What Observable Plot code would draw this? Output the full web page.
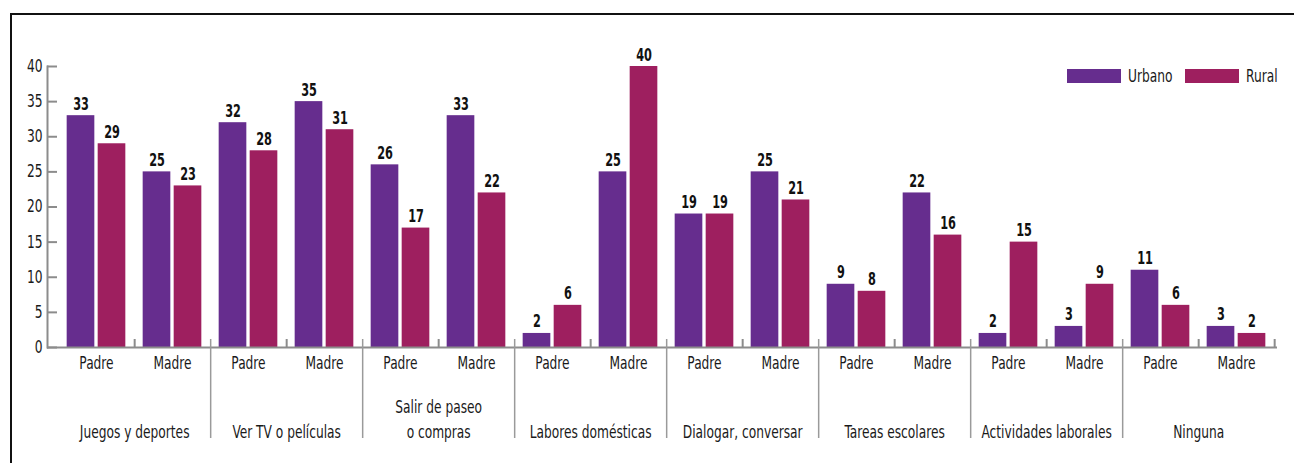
<!DOCTYPE html>
<html><head><meta charset="utf-8">
<script src="https://cdn.jsdelivr.net/npm/d3@7"></script>
<script src="https://cdn.jsdelivr.net/npm/@observablehq/plot@0.6"></script>
<style>
body{margin:0;background:#fff;}
#wrap{position:relative;width:1294px;height:463px;overflow:hidden;font-family:"DejaVu Sans Condensed","DejaVu Sans",sans-serif;}
#border{position:absolute;left:10px;top:13px;width:1400px;height:600px;border-left:2px solid #111;border-top:2px solid #111;}
#chart{position:absolute;left:0;top:0;}
.sw{position:absolute;top:69px;width:54px;height:14px;}
.lb{position:absolute;top:65px;font-size:17px;line-height:22px;color:#1a1a1a;transform:scaleX(0.8);transform-origin:0 50%;white-space:nowrap;}
</style></head><body>
<div id="wrap"><div id="border"></div><div id="chart"></div><div id="legend"></div></div>
<script>
const groups = ["Juegos y deportes", "Ver TV o películas", "Salir de paseo\no compras", "Labores domésticas", "Dialogar, conversar", "Tareas escolares", "Actividades laborales", "Ninguna"];
const parents = ["Padre", "Madre"];
const series = ["Urbano", "Rural"];
const urbano = [33, 25, 32, 35, 26, 33, 2, 25, 19, 25, 9, 22, 2, 3, 11, 3];
const rural  = [29, 23, 28, 31, 17, 22, 6, 40, 19, 21, 8, 16, 15, 9, 6, 2];
const yTicks = [0, 5, 10, 15, 20, 25, 30, 35, 40];
const colors = ["#662d8e", "#9e1f5f"];

const rows = urbano.map((u, i) => ({
  key: "k" + i,
  group: groups[Math.floor(i / 2)],
  parent: parents[i % 2],
  urbano: u,
  rural: rural[i],
  last: i === urbano.length - 1
}));
const keys = rows.map(d => d.key);
const font = '"DejaVu Sans Condensed","DejaVu Sans",sans-serif';
const axisColor = "#8c8c8c";
const half = (1276.67 - 55.33) / keys.length / 2;

const chart = Plot.plot({
  width: 1294, height: 463,
  marginLeft: 47, marginRight: 17, marginTop: 66, marginBottom: 116,
  x: {domain: keys, range: [55.33, 1276.67], padding: 0, axis: null},
  y: {domain: [0, 40], axis: null},
  style: {fontFamily: font, background: "transparent", color: "#1a1a1a"},
  marks: [
    Plot.barY(rows, {x: "key", y: "urbano", fill: colors[0], insetLeft: 8.67, insetRight: 39.67}),
    Plot.barY(rows, {x: "key", y: "rural", fill: colors[1], insetLeft: 39.67, insetRight: 8.67}),
    Plot.frame({anchor: "left", stroke: axisColor, strokeWidth: 2}),
    Plot.ruleY([0], {stroke: axisColor, strokeWidth: 2}),
    Plot.tickY(yTicks, {y: d => d, insetRight: 1220, stroke: axisColor, strokeWidth: 2}),
    Plot.axisY({ticks: yTicks, tickSize: 0, tickPadding: 5, fontSize: 17, fill: "#1a1a1a"}),
    Plot.text(rows, {x: "key", y: "urbano", text: d => String(d.urbano), dx: -15.5, dy: -6, lineAnchor: "bottom", fontWeight: "bold", fontSize: 17, fill: "#111"}),
    Plot.text(rows, {x: "key", y: "rural", text: d => String(d.rural), dx: 15.5, dy: -6, lineAnchor: "bottom", fontWeight: "bold", fontSize: 17, fill: "#111"}),
    Plot.text(rows, {x: "key", frameAnchor: "bottom", text: "parent", dy: 16, lineAnchor: "middle", fontSize: 17, fill: "#1a1a1a"}),
    Plot.text(rows.filter(d => d.parent === "Padre"), {x: "key", frameAnchor: "bottom", text: "group", dx: half, dy: 90, lineAnchor: "bottom", lineHeight: 1.47, fontSize: 17, fill: "#1a1a1a"}),
    Plot.ruleX(rows.filter(d => d.parent === "Madre" && !d.last), {x: "key", dx: half, insetTop: 273, insetBottom: -91, stroke: "#9a9a9a", strokeWidth: 1.5}),
    Plot.ruleX(rows.filter(d => d.parent === "Padre" || d.last), {x: "key", dx: half, insetTop: 273, insetBottom: 0, stroke: axisColor, strokeWidth: 2})
  ]
});

// condense the text horizontally, like the narrow typeface of the original
d3.select(chart).selectAll("text").each(function() {
  const g = this.closest("g");
  const bold = g && g.getAttribute("font-weight") === "bold";
  const t = this.getAttribute("transform") || "";
  this.setAttribute("transform", `${t} scale(${bold ? 0.74 : 0.8},1)`);
});
document.getElementById("chart").appendChild(chart);

// legend
const legendPos = [[1067, 1128], [1185, 1246]];
const legend = d3.select("#legend");
series.forEach((s, i) => {
  legend.append("div").attr("class", "sw").style("left", legendPos[i][0] + "px").style("background", colors[i]);
  legend.append("div").attr("class", "lb").style("left", legendPos[i][1] + "px").text(s);
});
</script>
</body></html>
